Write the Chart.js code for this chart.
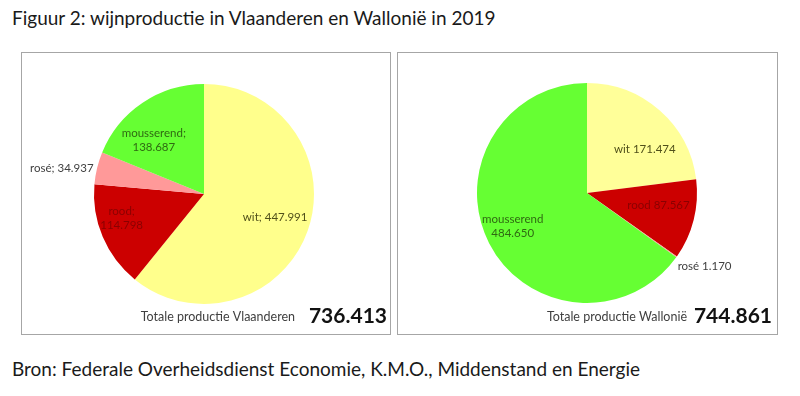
<!DOCTYPE html>
<html lang="nl">
<head>
<meta charset="UTF-8">
<title>Wijnproductie Vlaanderen en Wallonië 2019</title>
<script src="https://cdn.jsdelivr.net/npm/chart.js"></script>
<style>
    body {
        margin: 0;
        width: 800px;
        height: 396px;
        background: #fff;
        font-family: Lato, sans-serif;
        color: #1a1a1a;
        position: relative;
        overflow: hidden;
    }

    .caption {
        position: absolute;
        left: 12px;
        font-size: 19px;
        line-height: 19px;
        white-space: nowrap;
    }

    .box {
        position: absolute;
        top: 52px;
        height: 281px;
        border: 1px solid #a6a6a6;
        background: #fff;
    }

    .box canvas {
        position: absolute;
        left: 0;
        top: 0;
    }
</style>
</head>
<body>
    <div class="caption" style="top:8px">Figuur 2: wijnproductie in Vlaanderen en Wallonië in 2019</div>

    <div class="box" style="left:21px; width:368px">
        <canvas id="chartVl" width="368" height="281"></canvas>
    </div>
    <div class="box" style="left:397px; width:379px">
        <canvas id="chartWa" width="379" height="281"></canvas>
    </div>

    <div class="caption" style="top:359px">Bron: Federale Overheidsdienst Economie, K.M.O., Middenstand en Energie</div>

<script>
    // data
    const categories = ['wit', 'rood', 'rosé', 'mousserend'];
    const valuesVlaanderen = [447991, 114798, 34937, 138687];
    const valuesWallonie = [171474, 87567, 1170, 484650];
    const totalVlaanderen = 736413;
    const totalWallonie = 744861;

    const colorsVl = ['#ffff8c', '#cc0000', '#ff9999', '#66ff33'];
    const colorsWa = ['#ffff99', '#cc0000', '#ff9999', '#66ff33'];
    const textColors = ['#50501a', '#8a0000', '#404040', '#2f6a12'];

    // Dutch thousands separator
    function fmt(v) {
        return String(v).replace(/\B(?=(\d{3})+(?!\d))/g, '.');
    }

    // labels next to the slices + total line under the pie
    const sliceLabels = {
        id: 'sliceLabels',
        afterDatasetsDraw(chart, args, opts) {
            const ctx = chart.ctx;
            const meta = chart.getDatasetMeta(0);
            const labels = chart.data.labels;
            const values = chart.data.datasets[0].data;
            ctx.save();
            ctx.font = '11.5px Lato';
            meta.data.forEach((arc, i) => {
                const p = opts.place[i];
                const a = arc.getProps(['x', 'y', 'startAngle', 'endAngle', 'outerRadius'], true);
                const mid = (a.startAngle + a.endAngle) / 2 + p.turn * Math.PI / 180;
                const px = a.x + Math.cos(mid) * a.outerRadius * p.r;
                const py = a.y + Math.sin(mid) * a.outerRadius * p.r;
                const lines = p.split
                    ? [labels[i] + opts.sep, fmt(values[i])]
                    : [labels[i] + opts.sep + ' ' + fmt(values[i])];
                ctx.fillStyle = p.outside ? '#404040' : textColors[i];
                ctx.textAlign = p.align || 'center';
                ctx.textBaseline = 'middle';
                const lh = 14;
                lines.forEach((t, k) => {
                    ctx.fillText(t, px, py + (k - (lines.length - 1) / 2) * lh);
                });
            });

            const f = opts.footer;
            ctx.textBaseline = 'alphabetic';
            ctx.textAlign = 'right';
            ctx.fillStyle = '#404040';
            ctx.font = '12.5px Lato';
            ctx.fillText(f.text, f.textRight, f.baseline);
            ctx.fillStyle = '#111';
            ctx.font = 'bold 21px Lato';
            ctx.fillText(fmt(f.total), f.totalRight, f.baseline + 2);
            ctx.restore();
        }
    };

    function makePie(id, values, colors, padding, place, sep, footer) {
        return new Chart(document.getElementById(id), {
            type: 'pie',
            data: {
                labels: categories,
                datasets: [{
                    data: values,
                    backgroundColor: colors,
                    borderWidth: 0,
                    hoverOffset: 0,
                    offset: 0
                }]
            },
            options: {
                responsive: false,
                animation: false,
                layout: { padding: padding },
                plugins: {
                    legend: { display: false },
                    tooltip: { enabled: false },
                    sliceLabels: { place: place, sep: sep, footer: footer }
                }
            },
            plugins: [sliceLabels]
        });
    }

    makePie('chartVl', valuesVlaanderen, colorsVl,
        { left: 72, right: 76, top: 31, bottom: 30 },
        [
            { r: 0.68, turn: -1.5 },
            { r: 0.78, turn: 6.7, split: true },
            { r: 1.03, turn: -0.7, align: 'right', outside: true },
            { r: 0.67, turn: -9, split: true }
        ],
        ';',
        { text: 'Totale productie Vlaanderen', textRight: 273, total: totalVlaanderen, totalRight: 365, baseline: 268 });

    makePie('chartWa', valuesWallonie, colorsWa,
        { left: 79, right: 80, top: 30, bottom: 31 },
        [
            { r: 0.66, turn: 11.4 },
            { r: 0.66, turn: -4 },
            { r: 1.06, turn: 3.5, align: 'left', outside: true },
            { r: 0.74, turn: 3, split: true }
        ],
        '',
        { text: 'Totale productie Wallonië', textRight: 289, total: totalWallonie, totalRight: 374, baseline: 268 });
</script>
</body>
</html>
